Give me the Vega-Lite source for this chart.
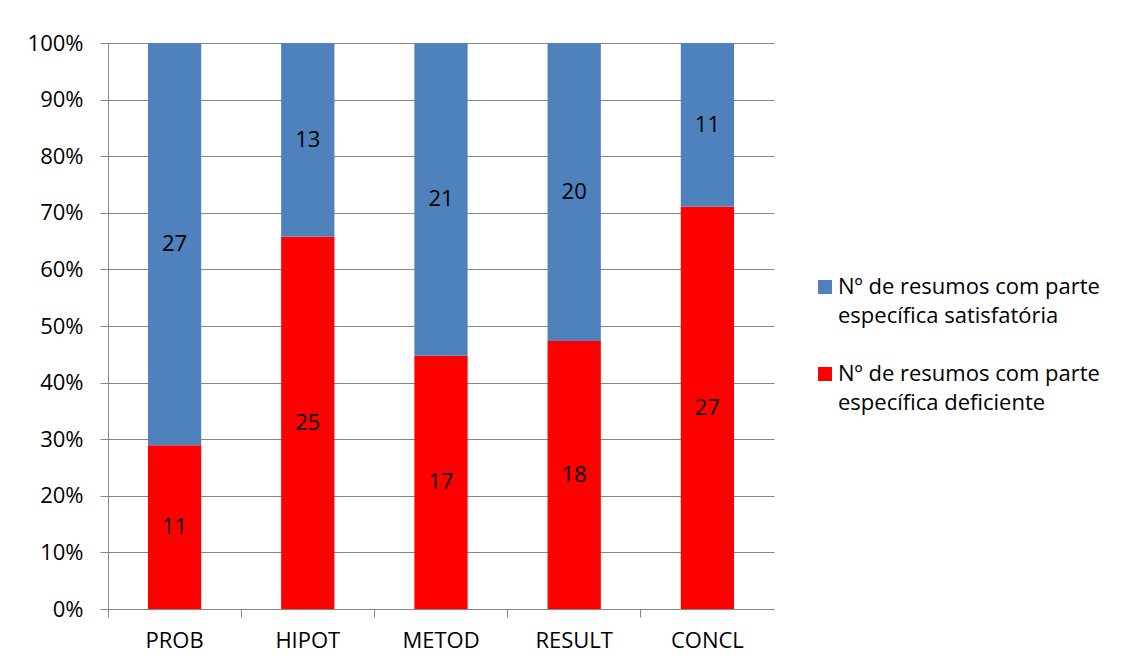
{
  "$schema": "https://vega.github.io/schema/vega-lite/v6.json",
  "width": 666,
  "height": 566,
  "autosize": "none",
  "padding": {"left": 108, "top": 43, "right": 358, "bottom": 60},
  "background": "white",
  "config": {
    "view": {"stroke": null},
    "font": "Open Sans",
    "style": {"guide-label": {"lineHeight": 29}}
  },
  "data": {
    "values": [
      {"cat": "PROB", "tipo": "Nº de resumos com parte específica deficiente", "n": 11},
      {"cat": "PROB", "tipo": "Nº de resumos com parte específica satisfatória", "n": 27},
      {"cat": "HIPOT", "tipo": "Nº de resumos com parte específica deficiente", "n": 25},
      {"cat": "HIPOT", "tipo": "Nº de resumos com parte específica satisfatória", "n": 13},
      {"cat": "METOD", "tipo": "Nº de resumos com parte específica deficiente", "n": 17},
      {"cat": "METOD", "tipo": "Nº de resumos com parte específica satisfatória", "n": 21},
      {"cat": "RESULT", "tipo": "Nº de resumos com parte específica deficiente", "n": 18},
      {"cat": "RESULT", "tipo": "Nº de resumos com parte específica satisfatória", "n": 20},
      {"cat": "CONCL", "tipo": "Nº de resumos com parte específica deficiente", "n": 27},
      {"cat": "CONCL", "tipo": "Nº de resumos com parte específica satisfatória", "n": 11}
    ]
  },
  "encoding": {
    "x": {
      "field": "cat",
      "type": "nominal",
      "sort": null,
      "scale": {"paddingInner": 0, "paddingOuter": 0},
      "axis": {
        "title": null,
        "labelAngle": 0,
        "labelFontSize": 22,
        "labelColor": "black",
        "labelPadding": 13,
        "domainColor": "#868686",
        "tickColor": "#868686",
        "tickSize": 8,
        "bandPosition": 0,
        "labelOffset": 0
      }
    }
  },
  "layer": [
    {
      "mark": {"type": "bar", "width": {"band": 0.4}},
      "encoding": {
        "y": {
          "field": "n",
          "type": "quantitative",
          "stack": "normalize",
          "scale": {"domain": [0, 1]},
          "axis": {
            "title": null,
            "values": [0, 0.1, 0.2, 0.3, 0.4, 0.5, 0.6, 0.7, 0.8, 0.9, 1],
            "format": ".0%",
            "grid": true,
            "gridColor": "#868686",
            "domainColor": "#868686",
            "tickColor": "#868686",
            "tickSize": 8,
            "labelFontSize": 22,
            "labelColor": "black",
            "labelPadding": 17
          }
        },
        "color": {
          "field": "tipo",
          "type": "nominal",
          "scale": {
            "domain": ["Nº de resumos com parte específica satisfatória", "Nº de resumos com parte específica deficiente"],
            "range": ["#4F81BD", "#FF0000"]
          },
          "legend": {
            "title": null,
            "orient": "none",
            "legendX": 706,
            "legendY": 233,
            "symbolType": "square",
            "symbolSize": 196,
            "symbolStrokeWidth": 0,
            "symbolOpacity": 1,
            "labelFontSize": 22,
            "labelColor": "black",
            "labelLimit": 400,
            "labelOffset": 2,
            "rowPadding": 36,
            "labelExpr": "[slice(datum.label, 0, 23), slice(datum.label, 24)]"
          }
        },
        "order": {"field": "tipo", "sort": "ascending"}
      }
    },
    {
      "transform": [
        {"stack": "n", "groupby": ["cat"], "sort": [{"field": "tipo", "order": "ascending"}], "offset": "normalize", "as": ["y0", "y1"]},
        {"calculate": "(datum.y0 + datum.y1) / 2", "as": "mid"}
      ],
      "mark": {"type": "text", "fontSize": 22, "color": "black"},
      "encoding": {
        "y": {"field": "mid", "type": "quantitative"},
        "text": {"field": "n", "type": "quantitative"}
      }
    }
  ]
}
